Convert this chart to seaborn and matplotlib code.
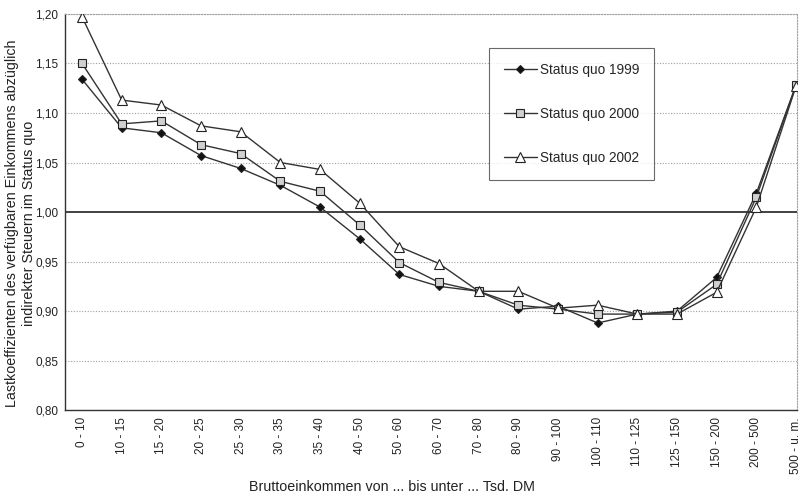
import pandas as pd
import seaborn as sns
import matplotlib.pyplot as plt

# income classes (thousand DM) and load coefficients per status quo
classes = ["0 - 10", "10 - 15", "15 - 20", "20 - 25", "25 - 30", "30 - 35",
           "35 - 40", "40 - 50", "50 - 60", "60 - 70", "70 - 80", "80 - 90",
           "90 - 100", "100 - 110", "110 - 125", "125 - 150", "150 - 200",
           "200 - 500", "500 - u. m."]
sq_1999 = [1.134, 1.085, 1.080, 1.057, 1.044, 1.027, 1.005, 0.973, 0.937, 0.925,
           0.920, 0.902, 0.905, 0.888, 0.897, 0.900, 0.934, 1.019, 1.128]
sq_2000 = [1.150, 1.089, 1.092, 1.068, 1.059, 1.031, 1.021, 0.987, 0.949, 0.929,
           0.920, 0.906, 0.902, 0.897, 0.897, 0.899, 0.927, 1.015, 1.128]
sq_2002 = [1.197, 1.113, 1.108, 1.087, 1.081, 1.050, 1.043, 1.009, 0.965, 0.948,
           0.920, 0.920, 0.903, 0.906, 0.897, 0.897, 0.919, 1.005, 1.127]
y_ticks = [0.80, 0.85, 0.90, 0.95, 1.00, 1.05, 1.10, 1.15, 1.20]

sns.set_theme(style="white")
plt.rcParams["font.family"] = ["Liberation Sans", "DejaVu Sans"]

pos = list(range(len(classes)))
series = [
    ("Status quo 1999", sq_1999, "D", "#111111", 4.5),
    ("Status quo 2000", sq_2000, "s", "#d0d0d0", 6),
    ("Status quo 2002", sq_2002, "^", "white", 6.5),
]

fig = plt.figure(figsize=(8.02, 4.96), dpi=100)
ax = fig.add_axes([0.081, 0.173, 0.913, 0.799])

# dotted grid + solid 1,00 reference line
for v in y_ticks:
    if abs(v - 1.0) < 1e-9:
        ax.axhline(v, color="#333333", linewidth=1.3, zorder=1)
    else:
        ax.axhline(v, color="#a0a0a0", linewidth=0.8, linestyle=(0, (1, 1.5)), zorder=1)

for label, vals, mk, fc, ms in series:
    sns.lineplot(x=pos, y=vals, ax=ax, label=label, color="#333333",
                 linewidth=1.0, marker=mk, markersize=ms,
                 markerfacecolor=fc, markeredgecolor="#222222",
                 markeredgewidth=0.8, zorder=3)

ax.set_xlim(-0.43, 18.03)
ax.set_ylim(0.80, 1.20)
ax.set_yticks(y_ticks)
ax.set_yticklabels([f"{v:.2f}".replace(".", ",") for v in y_ticks], fontsize=8.5, color="#222222")
ax.set_xticks(pos)
ax.set_xticklabels(classes, rotation=90, fontsize=8.5, color="#222222", va="top")
ax.tick_params(axis="both", direction="out", length=3, width=0.8, color="#333333", pad=2)

ax.set_xlabel("Bruttoeinkommen von ... bis unter ... Tsd. DM", fontsize=10.3, color="#222222")
ax.xaxis.set_label_coords(0.447, -0.177)
ax.set_ylabel("Lastkoeffizienten des verfügbaren Einkommens abzüglich\nindirekter Steuern im Status quo",
              fontsize=10.3, color="#222222", linespacing=1.2)
ax.yaxis.set_label_coords(-0.040, 0.472)

for side in ["left", "bottom"]:
    ax.spines[side].set_color("#333333")
    ax.spines[side].set_linewidth(1.0)
for side in ["top", "right"]:
    ax.spines[side].set_color("#a0a0a0")
    ax.spines[side].set_linewidth(0.8)
    ax.spines[side].set_linestyle((0, (1, 1.5)))

leg = ax.legend(loc="upper left", bbox_to_anchor=(0.579, 0.914), fontsize=9.8,
                frameon=True, fancybox=False, edgecolor="#444444",
                labelspacing=2.2, handlelength=2.4, handletextpad=0.25,
                borderpad=1.1, borderaxespad=0)
leg.get_frame().set_linewidth(0.8)

plt.savefig("out.png", dpi=100)
